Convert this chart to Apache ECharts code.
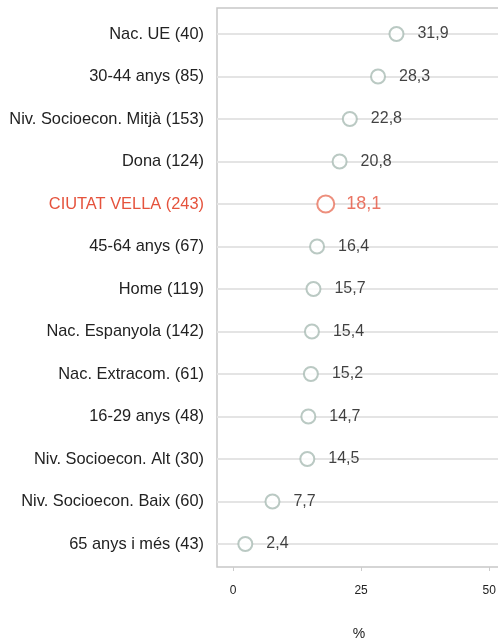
<!DOCTYPE html>
<html>
<head>
<meta charset="utf-8">
<script src="https://cdn.jsdelivr.net/npm/echarts@6/dist/echarts.min.js"></script>
<style>
  html, body { margin: 0; padding: 0; background: #fff; }
  #chart { width: 498px; height: 640px; }
</style>
</head>
<body>
<div id="chart"></div>
<script>
// categories, top to bottom
var categories = ['Nac. UE (40)', '30-44 anys (85)', 'Niv. Socioecon. Mitjà (153)', 'Dona (124)',
    'CIUTAT VELLA (243)', '45-64 anys (67)', 'Home (119)', 'Nac. Espanyola (142)',
    'Nac. Extracom. (61)', '16-29 anys (48)', 'Niv. Socioecon. Alt (30)',
    'Niv. Socioecon. Baix (60)', '65 anys i més (43)'];
var values = [31.9, 28.3, 22.8, 20.8, 18.1, 16.4, 15.7, 15.4, 15.2, 14.7, 14.5, 7.7, 2.4];
var xTicks = [0, 25, 50];
var highlight = 'CIUTAT VELLA (243)';

var red = '#e5533d';
var grey = '#a9bbb4';

var rows = categories.map(function (c, i) { return i; });

var chart = echarts.init(document.getElementById('chart'));

var data = values.map(function (v, i) {
    var item = { value: [v, i] };
    if (categories[i] === highlight) {
        item.symbolSize = 17;
        item.itemStyle = { borderColor: '#e8735d' };
        item.label = { color: red, fontSize: 18, distance: 11 };
    }
    return item;
});

var option = {
    animation: false,
    grid: {
        left: 217,
        right: -3,
        top: 8,
        height: 559,
        outerBoundsMode: 'none',
        containLabel: false,
        show: true,
        borderColor: '#c8c8c8',
        borderWidth: 1.5,
        backgroundColor: 'transparent'
    },
    xAxis: {
        type: 'value',
        min: -3.125,
        max: 52.3,
        name: '%',
        nameLocation: 'middle',
        nameGap: 60,
        nameTextStyle: { color: '#222', fontSize: 14, fontFamily: 'Liberation Sans' },
        axisLine: { show: false, onZero: false },
        splitLine: { show: false },
        axisTick: { show: true, customValues: xTicks, length: 4, lineStyle: { color: '#ccc' } },
        axisLabel: {
            customValues: xTicks,
            margin: 18,
            color: '#222',
            fontSize: 12,
            fontFamily: 'Liberation Sans'
        }
    },
    yAxis: {
        type: 'value',
        inverse: true,
        min: -0.612,
        max: 12.541,
        axisLine: { show: false, onZero: false },
        axisTick: { show: false },
        splitLine: { show: false },
        axisLabel: {
            customValues: rows,
            margin: 13,
            fontSize: 16.4,
            fontFamily: 'Liberation Sans',
            color: '#222',
            formatter: function (v) {
                var c = categories[Math.round(v)];
                return c === highlight ? '{hl|' + c + '}' : c;
            },
            rich: {
                hl: { color: red, fontSize: 16.4, fontFamily: 'Liberation Sans' }
            }
        }
    },
    series: [{
        type: 'scatter',
        data: data,
        symbol: 'circle',
        symbolSize: 14,
        z: 3,
        itemStyle: { color: '#fff', borderColor: grey, borderWidth: 2 },
        label: {
            show: true,
            position: 'right',
            distance: 13,
            color: '#111',
            textBorderWidth: 0,
            fontSize: 16,
            fontFamily: 'Liberation Sans',
            formatter: function (p) {
                return String(p.value[0]).replace('.', ',');
            }
        },
        markLine: {
            silent: true,
            symbol: 'none',
            z: 1,
            label: { show: false },
            lineStyle: { color: '#e4e4e4', width: 2, type: 'solid' },
            data: rows.map(function (r) {
                return { yAxis: r };
            })
        }
    }]
};

chart.setOption(option);
</script>
</body>
</html>
